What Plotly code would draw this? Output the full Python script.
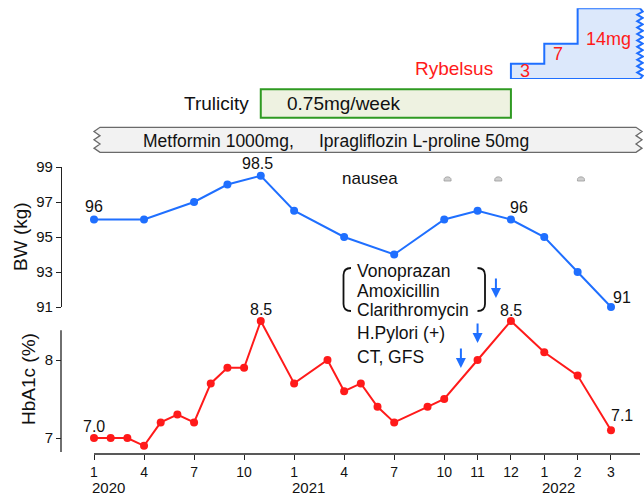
import plotly.graph_objects as go

W, H = 644, 497
FONT = "Liberation Sans, Arial, Helvetica, sans-serif"
BLUE = "#1f6fff"
RED = "#ff1a1a"
INK = "#111111"

# ---------------- data ----------------
bw_dates = [(2020, 1), (2020, 4), (2020, 7), (2020, 9), (2020, 11), (2021, 1), (2021, 4),
            (2021, 7), (2021, 10), (2021, 11), (2021, 12), (2022, 1), (2022, 2), (2022, 3)]
bw_values = [96, 96, 97, 98, 98.5, 96.5, 95, 94, 96, 96.5, 96, 95, 93, 91]
bw_labeled = [0, 4, 10, 13]

hba1c_dates = [(2020, 1), (2020, 2), (2020, 3), (2020, 4), (2020, 5), (2020, 6), (2020, 7),
               (2020, 8), (2020, 9), (2020, 10), (2020, 11), (2021, 1), (2021, 3), (2021, 4),
               (2021, 5), (2021, 6), (2021, 7), (2021, 9), (2021, 10), (2021, 11), (2021, 12),
               (2022, 1), (2022, 2), (2022, 3)]
hba1c_values = [7.0, 7.0, 7.0, 6.9, 7.2, 7.3, 7.2, 7.7, 7.9, 7.9, 8.5, 7.7, 8.0, 7.6,
                7.7, 7.4, 7.2, 7.4, 7.5, 8.0, 8.5, 8.1, 7.8, 7.1]
hba1c_labeled = [0, 10, 20, 23]

tick_dates = [(2020, 1), (2020, 4), (2020, 7), (2020, 10), (2021, 1), (2021, 4), (2021, 7),
              (2021, 10), (2021, 11), (2021, 12), (2022, 1), (2022, 2), (2022, 3)]
tick_labels = ["1", "4", "7", "10", "1", "4", "7", "10", "11", "12", "1", "2", "3"]
year_labels = ["2020", "2021", "2022"]
bw_ticks = [91, 93, 95, 97, 99]
hba1c_ticks = [7, 8]
hba1c_axis_span = [6.82, 8.38]

rybelsus_start = [(2021, 12), (2022, 1), (2022, 2)]
rybelsus_dose = [3, 7, 14]
rybelsus_text = ["3", "7", "14mg"]
trulicity_period = [(2020, 11), (2021, 12)]
metformin_start = (2020, 1)

nausea_dates = [(2021, 10.1), (2021, 11.62), (2022, 2.1)]
event_arrows = [(2021, 11.55), (2021, 11), (2021, 10.5)]

# ---------------- scales ----------------
BREAK = 21  # from 2021-10 on, each month is drawn twice as wide


def pos(y, m):
    k = (y - 2020) * 12 + (m - 1)
    return k if k <= BREAK else BREAK + 2 * (k - BREAK)


X0_PX = 94.0
UNIT_PX = 16.677


def px2x(px):
    return (px - X0_PX) / UNIT_PX


def x2px(x):
    return X0_PX + x * UNIT_PX


def fx(px):
    return px / W


def fy(py):
    return (H - py) / H


# HbA1c scale: 7 at 438 px, 8 at 360 px
HB_PX = 78.0
hb_top_px = 290
hb_bot_px = 452
hb_range = [7 - (hb_bot_px - 438) / HB_PX, 7 + (438 - hb_top_px) / HB_PX]

fig = go.Figure()

# BW
fig.add_trace(go.Scatter(
    x=[pos(*d) for d in bw_dates], y=bw_values, mode="lines+markers",
    line=dict(color=BLUE, width=2), marker=dict(color=BLUE, size=8),
    xaxis="x", yaxis="y", cliponaxis=False, hoverinfo="skip"))
# HbA1c
fig.add_trace(go.Scatter(
    x=[pos(*d) for d in hba1c_dates], y=hba1c_values, mode="lines+markers",
    line=dict(color=RED, width=2), marker=dict(color=RED, size=8),
    xaxis="x", yaxis="y2", cliponaxis=False, hoverinfo="skip"))

# Rybelsus step polygon (dose on y3)
xe = px2x(640)
amp = 5.5 / UNIT_PX
rx = [pos(*rybelsus_start[0])]
ry = [0]
for i, d in enumerate(rybelsus_start):
    rx += [pos(*d), pos(*d)]
    ry += [ry[-1], rybelsus_dose[i]]
rx.append(xe)
ry.append(rybelsus_dose[-1])
nz = 11
for i in range(1, 2 * nz + 1):
    rx.append(xe + (amp / 2 if i % 2 else -amp / 2))
    ry.append(rybelsus_dose[-1] - i * rybelsus_dose[-1] / (2 * nz))
rx[-1] = xe
rx += [rx[0]]
ry += [0]
fig.add_trace(go.Scatter(
    x=rx, y=ry, mode="lines", fill="toself", fillcolor="#dce8fb",
    line=dict(color=BLUE, width=2), xaxis="x", yaxis="y3", hoverinfo="skip"))

shapes = []
ann = []

# x axis line
shapes.append(dict(type="line", xref="x", yref="paper", x0=pos(2020, 1), x1=px2x(640),
                   y0=fy(454), y1=fy(454), line=dict(color="#222", width=1.3)))
# HbA1c axis line (shorter than its plotting area)
shapes.append(dict(type="line", xref="paper", yref="y2", x0=fx(61), x1=fx(61),
                   y0=hba1c_axis_span[0], y1=hba1c_axis_span[1],
                   line=dict(color="#222", width=1.3)))

# Trulicity box
shapes.append(dict(type="rect", xref="x", yref="paper",
                   x0=pos(*trulicity_period[0]), x1=pos(*trulicity_period[1]),
                   y0=fy(117.7), y1=fy(89.3), fillcolor="#eef2e1",
                   line=dict(color="#2f9a22", width=2)))

# Metformin banner with zigzag ends
mx0 = x2px(pos(*metformin_start))
top, bot = 127.3, 152.3
L_in, L_out = mx0 + 6, mx0
R_in, R_out = 636, 642
n = 3
pts = [(L_in, top), (R_in, top)]
for i in range(1, 2 * n + 1):
    pts.append((R_out if i % 2 else R_in, top + i * (bot - top) / (2 * n)))
pts.append((L_in, bot))
for i in range(1, 2 * n + 1):
    pts.append((L_out if i % 2 else L_in, bot - i * (bot - top) / (2 * n)))
path = "M " + " L ".join(f"{fx(a):.5f},{fy(b):.5f}" for a, b in pts) + " Z"
shapes.append(dict(type="path", xref="paper", yref="paper", path=path,
                   fillcolor="#f2f2f2", line=dict(color="#6a6a6a", width=1.3)))


# brackets
def bracket(xv, xh, y0, y1, r=7):
    p = [f"M {fx(xh):.5f},{fy(y0):.5f}",
         f"Q {fx(xv):.5f},{fy(y0):.5f} {fx(xv):.5f},{fy(y0 + r):.5f}",
         f"L {fx(xv):.5f},{fy(y1 - r):.5f}",
         f"Q {fx(xv):.5f},{fy(y1):.5f} {fx(xh):.5f},{fy(y1):.5f}"]
    return dict(type="path", xref="paper", yref="paper", path=" ".join(p),
                line=dict(color=INK, width=1.8))


shapes.append(bracket(343.5, 351, 268, 311))
shapes.append(bracket(485, 477.5, 268, 311))

# nausea icons (small domes)
for d in nausea_dates:
    cx = x2px(pos(*d))
    cy = 179
    p = (f"M {fx(cx-3.5):.5f},{fy(cy+2):.5f} L {fx(cx-3.5):.5f},{fy(cy+0.5):.5f} "
         f"C {fx(cx-3.5):.5f},{fy(cy-3):.5f} {fx(cx+3.5):.5f},{fy(cy-3):.5f} {fx(cx+3.5):.5f},{fy(cy+0.5):.5f} "
         f"L {fx(cx+3.5):.5f},{fy(cy+2):.5f} Z")
    shapes.append(dict(type="path", xref="paper", yref="paper", path=p,
                       fillcolor="#cfcfcf", line=dict(color="#9a9a9a", width=0.8)))


def text(x, y, t, size, color=INK, xanchor="center", xref="paper", yref="paper", **kw):
    ann.append(dict(x=x, y=y, xref=xref, yref=yref, text=t, showarrow=False,
                    xanchor=xanchor, yanchor="middle",
                    font=dict(family=FONT, size=size, color=color), **kw))


# value labels
bw_off = {0: (0, 13), 4: (-3, 12), 10: (8, 12), 13: (11, 10)}
for i in bw_labeled:
    dx, dy = bw_off[i]
    text(pos(*bw_dates[i]), bw_values[i], f"{bw_values[i]:g}", 16,
         xref="x", yref="y", xshift=dx, yshift=dy)
hb_off = {0: (0, 12), 10: (0, 12), 20: (0, 11), 23: (11, 15)}
for i in hba1c_labeled:
    dx, dy = hb_off[i]
    text(pos(*hba1c_dates[i]), hba1c_values[i], f"{hba1c_values[i]:.1f}", 16,
         xref="x", yref="y2", xshift=dx, yshift=dy)

# year labels
for yl in year_labels:
    text(pos(int(yl), 1), fy(487.5), yl, 15, xanchor="left", xref="x", xshift=-4)

# axis titles
ann.append(dict(x=fx(20), y=fy(237), xref="paper", yref="paper", text="BW (kg)",
                xanchor="center", yanchor="middle",
                showarrow=False, textangle=-90, font=dict(family=FONT, size=19, color=INK)))
ann.append(dict(x=fx(28), y=fy(379), xref="paper", yref="paper", text="HbA1c (%)",
                xanchor="center", yanchor="middle",
                showarrow=False, textangle=-90, font=dict(family=FONT, size=19, color=INK)))

# medication labels
text(fx(454), fy(68), "Rybelsus", 19, color=RED)
ry_y = [71, 54, 38.6]
for d, t, yy in zip(rybelsus_start, rybelsus_text, ry_y):
    text(pos(*d), fy(yy), t, 18, color=RED, xanchor="left", xref="x",
         xshift=7 if t != "14mg" else 6)
text(fx(216.7), fy(103), "Trulicity", 19)
text(fx(285), fy(103), "0.75mg/week", 19, xanchor="left")
text(fx(141), fy(141), "Metformin 1000mg,", 17.5, xanchor="left")
text(fx(316.5), fy(141), "Ipragliflozin L-proline 50mg", 17.5, xanchor="left")
text(fx(370), fy(178), "nausea", 17)

# H. pylori block
for t, yy in [("Vonoprazan", 271), ("Amoxicillin", 291), ("Clarithromycin", 310.5),
              ("H.Pylori (+)", 333), ("CT, GFS", 357)]:
    text(fx(355), fy(yy), t, 17.5, xanchor="left")

# arrows
tips = [298, 343, 368]
for d, tip in zip(event_arrows, tips):
    ann.append(dict(x=pos(*d), y=fy(tip), xref="x", yref="paper", text="",
                    showarrow=True, ax=0, ay=-21, arrowhead=2, arrowsize=1,
                    arrowwidth=2, arrowcolor=BLUE, standoff=0))

axis_common = dict(showgrid=False, zeroline=False, linecolor="#222",
                   linewidth=1.3, ticks="outside", ticklen=5, tickwidth=1.3,
                   tickcolor="#222", anchor="free", position=fx(61), automargin=False,
                   tickfont=dict(family=FONT, size=15, color=INK))

fig.update_layout(
    width=W, height=H, autosize=False,
    margin=dict(l=0, r=0, t=0, b=0, pad=0, autoexpand=False),
    paper_bgcolor="white", plot_bgcolor="rgba(0,0,0,0)", showlegend=False,
    font=dict(family=FONT, color=INK),
    xaxis=dict(domain=[0, 1], range=[px2x(0), px2x(W)], anchor="free", position=fy(454),
               showgrid=False, zeroline=False, showline=False, automargin=False,
               tickmode="array", tickvals=[pos(*d) for d in tick_dates], ticktext=tick_labels,
               ticks="outside", ticklen=5, tickwidth=1.3, tickcolor="#222",
               tickfont=dict(family=FONT, size=14, color=INK)),
    yaxis=dict(domain=[fy(307), fy(167)], range=[91, 99], tickmode="array",
               tickvals=bw_ticks, showline=True, **axis_common),
    yaxis2=dict(domain=[fy(hb_bot_px), fy(hb_top_px)], range=hb_range, tickmode="array",
                tickvals=hba1c_ticks, showline=False, **axis_common),
    yaxis3=dict(domain=[fy(79), fy(8.3)], range=[0, 14], visible=False,
                anchor="free", position=0, automargin=False),
    shapes=shapes, annotations=ann,
)

fig.write_html("out.html", config={"displayModeBar": False, "responsive": False},
               post_script="document.body.style.margin='0';document.body.style.overflow='hidden';")
